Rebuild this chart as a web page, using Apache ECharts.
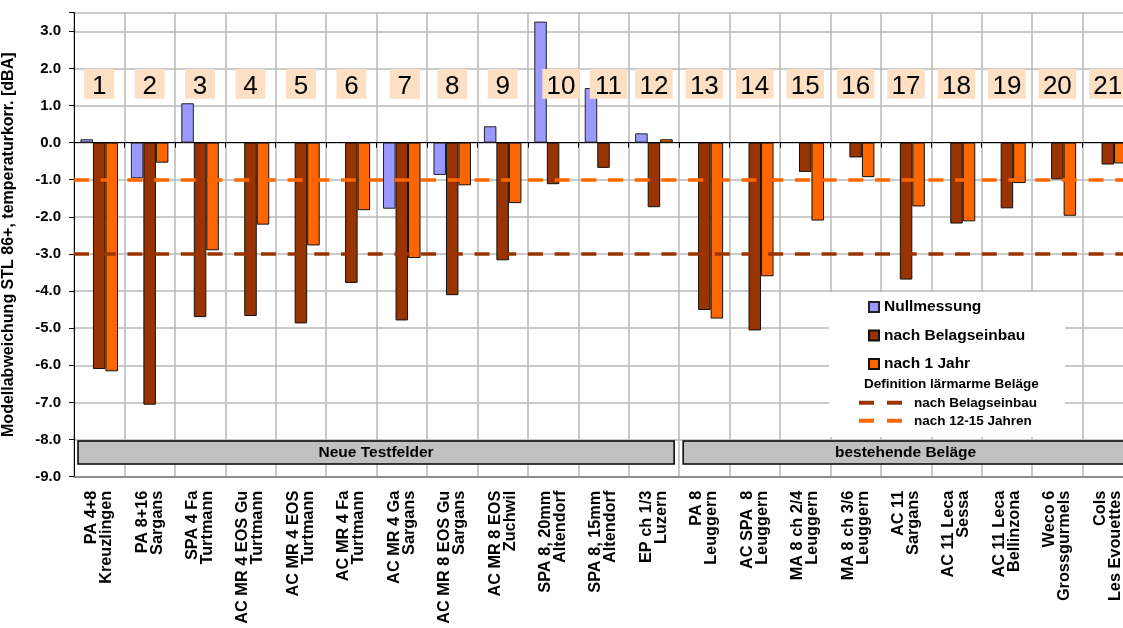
<!DOCTYPE html>
<html>
<head>
<meta charset="utf-8">
<script src="https://cdn.jsdelivr.net/npm/echarts@6/dist/echarts.min.js"></script>
<style>
html,body{margin:0;padding:0;background:#fff;}
#c{width:1123px;height:628px;}
</style>
</head>
<body>
<div id="c"></div>
<script>
const categories = [
  'PA 4+8\nKreuzlingen', 'PA 8+16\nSargans', 'SPA 4 Fa\nTurtmann', 'AC MR 4 EOS Gu\nTurtmann',
  'AC MR 4 EOS\nTurtmann', 'AC MR 4 Fa\nTurtmann', 'AC MR 4 Ga\nSargans', 'AC MR 8 EOS Gu\nSargans',
  'AC MR 8 EOS\nZuchwil', 'SPA 8, 20mm\nAltendorf', 'SPA 8, 15mm\nAltendorf', 'EP ch 1/3\nLuzern',
  'PA 8\nLeuggern', 'AC SPA  8\nLeuggern', 'MA 8 ch 2/4\nLeuggern', 'MA 8 ch 3/6\nLeuggern',
  'AC 11\nSargans', 'AC 11 Leca\nSessa', 'AC 11 Leca\nBellinzona', 'Weco 6\nGrossgurmels', 'Cols\nLes Evouettes'
];
const fieldNumbers = ['1','2','3','4','5','6','7','8','9','10','11','12','13','14','15','16','17','18','19','20','21'];
const nullmessung = [0.09, -0.96, 1.06, null, null, null, -1.78, -0.87, 0.44, 3.26, 1.47, 0.25,
  null, null, null, null, null, null, null, null, null];
const nachBelagseinbau = [-6.10, -7.06, -4.70, -4.67, -4.87, -3.78, -4.79, -4.11, -3.17, -1.12, -0.68, -1.74,
  -4.51, -5.06, -0.79, -0.40, -3.69, -2.18, -1.77, -0.99, -0.59];
const nach1Jahr = [-6.16, -0.54, -2.90, -2.21, -2.77, -1.82, -3.11, -1.15, -1.63, null, null, 0.09,
  -4.74, -3.60, -2.10, -0.93, -1.72, -2.12, -1.09, -1.97, -0.56];
const limitNachEinbau = -3.0;
const limitNach12bis15 = -1.0;
const groupNames = ['Neue Testfelder', 'bestehende Beläge'];
const groupStart = [0, 12];
const groupEnd = [11, 20];
const yTicks = [-9, -8, -7, -6, -5, -4, -3, -2, -1, 0, 1, 2, 3];

const FONT = 'Liberation Sans, Arial, sans-serif';
const NUM_TOP = 1.98, NUM_BOTTOM = 1.18;   // vertical extent of the field-number boxes
const BOX_TOP = -8.04, BOX_BOTTOM = -8.66;

const chart = echarts.init(document.getElementById('c'));

const barCommon = {
  type: 'bar', xAxisIndex: 0, barGap: 0, barCategoryGap: '25.6%', z: 2,
};

const option = {
  animation: false,
  backgroundColor: '#fff',
  textStyle: { fontFamily: FONT },
  grid: { left: 74, right: -10, top: 12.7, bottom: 151.3, containLabel: false, outerBoundsMode: 'none' },
  xAxis: [
    {
      type: 'category', data: categories, position: 'bottom',
      axisLine: { onZero: true, lineStyle: { color: '#000', width: 1 } },
      axisTick: { show: true, length: 5, interval: 0, lineStyle: { color: '#000' } },
      axisLabel: { show: false },
      splitLine: { show: true, interval: 0, lineStyle: { color: '#b8b8b8', width: 1.5 } }
    },
    {
      type: 'category', data: categories, position: 'bottom',
      axisLine: { onZero: false, lineStyle: { color: '#7a7a7a', width: 1.5 } },
      axisTick: { show: false },
      splitLine: { show: false },
      axisLabel: {
        interval: 0, rotate: 90, margin: 14, color: '#000',
        fontFamily: FONT, fontWeight: 'bold', fontSize: 16.3, lineHeight: 15
      }
    }
  ],
  yAxis: {
    type: 'value', min: -9, max: 3.5, interval: 1,
    name: 'Modellabweichung STL 86+, temperaturkorr. [dBA]',
    nameLocation: 'middle', nameRotate: 90, nameGap: 57,
    nameTextStyle: { fontFamily: FONT, fontWeight: 'bold', fontSize: 16, color: '#000' },
    axisLine: { show: true, lineStyle: { color: '#000', width: 1 } },
    axisTick: { show: true, length: 5, lineStyle: { color: '#000' } },
    axisLabel: {
      margin: 13, color: '#000', fontFamily: FONT, fontWeight: 'bold', fontSize: 15,
      formatter: v => (yTicks.indexOf(Math.round(v * 10) / 10) >= 0 ? v.toFixed(1) : '')
    },
    splitLine: { show: true, lineStyle: { color: '#b8b8b8', width: 1.5 } }
  },
  legend: [
    {
      data: ['Nullmessung', 'nach Belagseinbau', 'nach 1 Jahr'],
      orient: 'vertical', left: 868, top: 299, padding: 0,
      itemWidth: 10, itemHeight: 10, itemGap: 12.5, icon: 'rect',
      selectedMode: false, z: 60,
      textStyle: { fontFamily: FONT, fontWeight: 'bold', fontSize: 15.5, lineHeight: 15, color: '#000' }
    },
    {
      data: [
        { name: 'nach Belagseinbau ', icon: 'path://M0,0H15V4H0Z M28,0H43V4H28Z', itemStyle: { color: '#993300', borderWidth: 0 } },
        { name: 'nach 12-15 Jahren', icon: 'path://M0,0H15V4H0Z M28,0H43V4H28Z', itemStyle: { color: '#ff6600', borderWidth: 0 } }
      ],
      orient: 'vertical', left: 859, top: 395.8, padding: 0,
      itemWidth: 43, itemHeight: 4, itemGap: 4,
      selectedMode: false, z: 60,
      textStyle: { fontFamily: FONT, fontWeight: 'bold', fontSize: 13.5, lineHeight: 13, color: '#000', padding: [0, 0, 0, 7] }
    }
  ],
  graphic: [
    { type: 'rect', left: 829, top: 292, shape: { width: 236, height: 145 }, style: { fill: '#fff' }, z: 50, silent: true },
    { type: 'text', left: 864, top: 377, z: 55, silent: true,
      style: { text: 'Definition lärmarme Beläge', font: 'bold 13.5px ' + FONT, fill: '#000' } }
  ],
  series: [
    Object.assign({}, barCommon, { name: 'Nullmessung', data: nullmessung,
      itemStyle: { color: '#9999ff', borderColor: '#222', borderWidth: 1 } }),
    Object.assign({}, barCommon, { name: 'nach Belagseinbau', data: nachBelagseinbau,
      itemStyle: { color: '#993300', borderColor: '#111', borderWidth: 1 } }),
    Object.assign({}, barCommon, { name: 'nach 1 Jahr', data: nach1Jahr,
      itemStyle: { color: '#ff6600', borderColor: '#111', borderWidth: 1 } }),
    {
      name: 'nach Belagseinbau ', type: 'line', data: [], z: 5,
      color: '#993300', itemStyle: { color: '#993300' }, lineStyle: { color: '#993300' },
      markLine: {
        silent: true, symbol: ['none', 'none'], label: { show: false }, z: 5,
        lineStyle: { color: '#993300', width: 3.5, type: [15, 11.7], dashOffset: 0 },
        data: [{ yAxis: limitNachEinbau }]
      }
    },
    {
      name: 'nach 12-15 Jahren', type: 'line', data: [], z: 5,
      color: '#ff6600', itemStyle: { color: '#ff6600' }, lineStyle: { color: '#ff6600' },
      markLine: {
        silent: true, symbol: ['none', 'none'], label: { show: false }, z: 5,
        lineStyle: { color: '#ff6600', width: 3.5, type: [15, 11.7], dashOffset: 0 },
        data: [{ yAxis: limitNach12bis15 }]
      }
    },
    {
      type: 'custom', xAxisIndex: 0, z: 6, silent: true,
      data: groupNames.map((n, i) => [groupStart[i], groupEnd[i]]),
      renderItem: function (params, api) {
        const bw = api.size([1, 0])[0];
        const p0 = api.coord([api.value(0), BOX_TOP]);
        const p1 = api.coord([api.value(1), BOX_BOTTOM]);
        const x0 = p0[0] - bw / 2 + 4;
        const x1 = p1[0] + bw / 2 - 5;
        return {
          type: 'group',
          children: [
            { type: 'rect', shape: { x: x0, y: p0[1], width: x1 - x0, height: p1[1] - p0[1] },
              style: { fill: '#c0c0c0', stroke: '#000', lineWidth: 1.5 } },
            { type: 'text', style: { text: groupNames[params.dataIndex], x: (x0 + x1) / 2, y: (p0[1] + p1[1]) / 2,
              align: 'center', verticalAlign: 'middle', font: 'bold 15.5px ' + FONT, fill: '#000' } }
          ]
        };
      },
      clip: false
    },
    {
      type: 'custom', xAxisIndex: 0, z: 10, silent: true,
      data: fieldNumbers.map((n, i) => [i]),
      renderItem: function (params, api) {
        const n = fieldNumbers[params.dataIndex];
        const top = api.coord([api.value(0), NUM_TOP]);
        const bot = api.coord([api.value(0), NUM_BOTTOM]);
        const w = n.length > 1 ? 37.5 : 30;
        const shift = n === '10' ? 8 : (n === '11' ? 5 : (n === '7' ? 3 : 0));
        const cx = top[0] + shift;
        return {
          type: 'group',
          children: [
            { type: 'rect', shape: { x: cx - w / 2, y: top[1], width: w, height: bot[1] - top[1] },
              style: { fill: '#fde0c3' } },
            { type: 'text', style: { text: n, x: cx, y: (top[1] + bot[1]) / 2 + 3,
              align: 'center', verticalAlign: 'middle', font: '26px ' + FONT, fill: '#000' } }
          ]
        };
      },
      clip: false
    }
  ]
};

chart.setOption(option);
</script>
</body>
</html>
